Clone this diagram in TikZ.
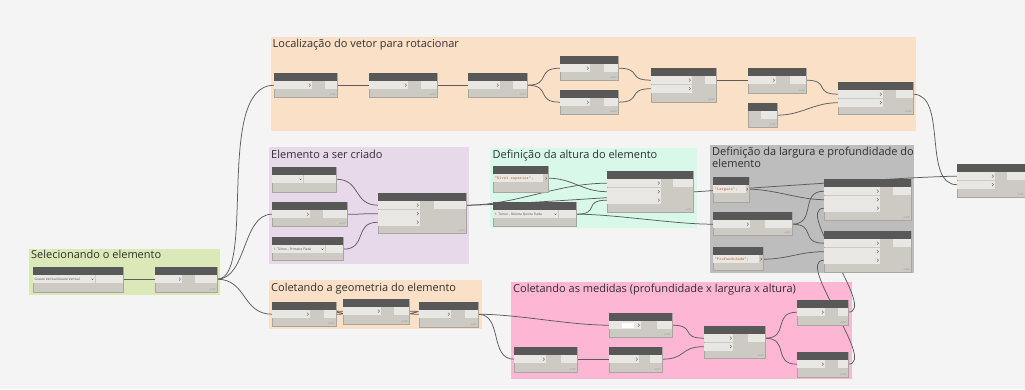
\documentclass[tikz,border=0pt]{standalone}
\usepackage{fontspec}
\setmainfont{Open Sans}
\usepackage{xcolor}
\definecolor{canvasbg}{HTML}{F4F4F4}
\definecolor{gpeach}{HTML}{FBE0C8}
\definecolor{glilac}{HTML}{E8D9EA}
\definecolor{gmint}{HTML}{D8F8EA}
\definecolor{ggrey}{HTML}{BDBDBD}
\definecolor{glime}{HTML}{DBE8B8}
\definecolor{gpink}{HTML}{FDB6D3}
\definecolor{dnodehead}{HTML}{585858}
\definecolor{dnodebody}{HTML}{CDCAC4}
\definecolor{dnoderow}{HTML}{E9E7E3}
\definecolor{dnodeline}{HTML}{A9A59F}
\definecolor{dwire}{HTML}{5C5C5C}
\definecolor{dtitle}{HTML}{303030}
\definecolor{codetext}{HTML}{B86A32}
\definecolor{droptext}{HTML}{505050}
\definecolor{dlacecol}{HTML}{8A8680}

\pgfdeclarelayer{groups}
\pgfdeclarelayer{wires}
\pgfsetlayers{groups,wires,main}

\tikzset{
  dbody/.style={draw=dnodeline, fill=dnodebody, line width=0.3pt, inner sep=0pt, outer sep=0pt, anchor=north west},
  dhead/.style={fill=dnodehead},
  drow/.style={fill=dnoderow},
  dport/.style={draw=droptext, line width=0.35pt},
  dlace/.style={font=\fontsize{2.2}{2.4}\selectfont, text=dlacecol, inner sep=0.3pt},
  droplabel/.style={font=\fontsize{3.2}{3.6}\selectfont, text=droptext, inner sep=0pt, anchor=west},
  codelabel/.style={font=\ttfamily\fontsize{4.3}{4.6}\selectfont, text=codetext, inner sep=0pt, anchor=west},
  wire/.style={draw=dwire, line width=0.75pt},
  grpbox/.style={inner sep=0pt, outer sep=0pt, anchor=north west},
  grptitle/.style={font=\fontsize{11}{12.5}\selectfont, text=dtitle, inner sep=0pt, anchor=base west},
}

% #1 name, #2 x, #3 y, #4 width, #5 height, #6 inputs, #7 input field, #8 output field
\newcommand{\dnode}[8]{%
  \node[dbody, minimum width=#4pt, minimum height=#5pt] (#1) at (#2,#3) {};
  \fill[dhead] (#2,#3) rectangle ++(#4,8);
  \fill[drow] ({#2+#4-#8},{#3+8.4}) rectangle ++({#8-0.4},7.6);
  \ifnum#6>0
  \foreach \i in {1,...,#6}{
    \fill[drow] ({#2+0.3},{#3+8.4+(\i-1)*8.5}) rectangle ++(#7,7.6);
    \draw[dport] ({#2+#7-3},{#3+10.7+(\i-1)*8.5}) -- ++(1.5,1.5) -- ++(-1.5,1.5);
    \coordinate (#1-in\i) at (#2,{#3+12.2+(\i-1)*8.5});
  }
  \fi
  \coordinate (#1-out) at ({#2+#4},{#3+12.2});
  \node[dlace, anchor=south east] (#1-lace) at ({#2+#4-1},{#3+#5-0.5}) {AUTO};
}

% dropdown: #6 field, #7 output field, #8 text
\newcommand{\ddrop}[8]{%
  \node[dbody, minimum width=#4pt, minimum height=#5pt] (#1) at (#2,#3) {};
  \fill[dhead] (#2,#3) rectangle ++(#4,8);
  \fill[drow] ({#2+0.3},{#3+8.4}) rectangle ++(#6,7.6);
  \fill[drow] ({#2+#4-#7},{#3+8.4}) rectangle ++({#7-0.4},7.6);
  \node[droplabel] (#1-text) at ({#2+1.5},{#3+12.2}) {#8};
  \draw[dport] ({#2+#6-3.5},{#3+11.7}) -- ++(1,1) -- ++(1,-1);
  \coordinate (#1-out) at ({#2+#4},{#3+12.2});
}

% code block: #6 field, #7 text
\newcommand{\dcode}[7]{%
  \node[dbody, minimum width=#4pt, minimum height=#5pt] (#1) at (#2,#3) {};
  \fill[dhead] (#2,#3) rectangle ++(#4,8);
  \fill[drow] ({#2+0.3},{#3+8.4}) rectangle ++(#6,7.6);
  \node[codelabel] (#1-text) at ({#2+1.5},{#3+12.2}) {#7};
  \draw[dport] ({#2+#4-2.5},{#3+11}) -- ++(1.2,1.2) -- ++(-1.2,1.2);
  \coordinate (#1-out) at ({#2+#4},{#3+12.2});
}

\newcommand{\wire}[3][25]{\draw[wire] (#2) .. controls +(#1,0) and +(-#1,0) .. (#3);}

\begin{document}
\begin{tikzpicture}[x=1pt, y=-1pt]
\useasboundingbox (0,0) rectangle (1025,389);

\begin{pgfonlayer}{groups}
  \fill[canvasbg] (0,0) rectangle (1025,389);
  \node[grpbox, fill=gpeach, minimum width=645pt, minimum height=94pt] (gvetor) at (271,37) {};
  \node[grptitle] (gvetor-title) at (272.5,47.5) {Localização do vetor para rotacionar};
  \node[grpbox, fill=glilac, minimum width=200pt, minimum height=117pt] (gcriado) at (269,147) {};
  \node[grptitle] (gcriado-title) at (271,158.5) {Elemento a ser criado};
  \node[grpbox, fill=gmint, minimum width=207pt, minimum height=80pt] (galtura) at (490,148) {};
  \node[grptitle] (galtura-title) at (492.5,158.5) {Definição da altura do elemento};
  \node[grpbox, fill=ggrey, minimum width=204pt, minimum height=128pt] (glargura) at (710,145) {};
  \node[grptitle, anchor=north west, align=left] (glargura-title) at (712,146.6) {Definição da largura e profundidade do\\elemento};
  \node[grpbox, fill=glime, minimum width=191pt, minimum height=46pt] (gselecao) at (29,249) {};
  \node[grptitle] (gselecao-title) at (31,258.5) {Selecionando o elemento};
  \node[grpbox, fill=gpeach, minimum width=213pt, minimum height=49pt] (ggeometria) at (269,280) {};
  \node[grptitle] (ggeometria-title) at (271,291) {Coletando a geometria do elemento};
  \node[grpbox, fill=gpink, minimum width=341pt, minimum height=97pt] (gmedidas) at (511,282) {};
  \node[grptitle] (gmedidas-title) at (513,292.5) {Coletando as medidas (profundidade x largura x altura)};
\end{pgfonlayer}

% selecionando
\ddrop{S1}{33}{267}{90}{25}{62}{27}{Graute Vertical:Graute Vertical}
\dnode{S2}{155}{267}{62}{25}{1}{27}{22}

% vetor
\dnode{N1}{274}{73}{63}{24}{1}{38}{12}
\dnode{N2}{369}{73}{68}{24}{1}{39}{16}
\dnode{N3}{468}{73}{59}{24}{1}{32}{14}
\dnode{N4}{560}{56}{58}{24}{1}{30}{14}
\dnode{N5}{560}{90}{58}{24}{1}{30}{14}
\dnode{N6}{651}{68}{65}{34}{2}{41}{11}
\dnode{N7}{748}{68}{58}{25}{1}{28}{16}
\dnode{N8}{748}{103}{29}{24}{0}{0}{16}
\dnode{N9}{838}{82}{75}{32}{2}{45}{17}
\dnode{F}{957}{164}{68}{33}{2}{38}{18}

% elemento
\ddrop{E1}{272}{167}{64}{25}{31}{32}{}
\dnode{E2}{272}{202}{75}{24}{1}{38}{24}
\ddrop{E3}{272}{237}{71}{23}{53}{17}{1. Térreo - Primeira Fiada}
\dnode{E4}{378}{193}{88}{40}{3}{42}{32}

% altura
\dcode{H1}{493}{166}{55}{26}{50}{"Nível superior";}
\ddrop{H2}{493}{202}{83}{24}{65}{17}{1. Térreo - Décima Quinta Fiada}
\dnode{H3}{607}{171}{86}{41}{3}{54}{20}

% largura e profundidade
\dcode{L1}{713}{177}{36}{25}{33}{"Largura";}
\dnode{L2}{713}{212}{79}{23}{1}{37}{27}
\dcode{L3}{713}{247}{50}{23}{46}{"Profundidade";}
\dnode{L4}{824}{179}{87}{41}{3}{56}{18}
\dnode{L5}{824}{231}{87}{41}{3}{56}{18}

% geometria
\dnode{G1}{272}{302}{64}{24}{1}{38}{12}
\dnode{G2}{343}{299}{66}{25}{1}{38}{15}
\dnode{G3}{419}{302}{59}{25}{1}{32}{13}

% medidas
\dnode{M1}{609}{313}{63}{24}{1}{32}{15}
\fill[white] (622,322.6) rectangle (634,328.2);
\dnode{M2}{514}{347}{63}{25}{1}{32}{16}
\dnode{M3}{609}{347}{53}{25}{1}{30}{12}
\dnode{M4}{704}{326}{61}{32}{2}{29}{17}
\dnode{M5}{797}{300}{51}{25}{1}{28}{10}
\dnode{M6}{797}{352}{51}{25}{1}{28}{10}

\begin{pgfonlayer}{wires}
  \wire{S1-out}{S2-in1}
  \draw[wire] (S2-out) .. controls +(40,0) and +(-60,0) .. (N1-in1);
  \wire[30]{S2-out}{E2-in1}
  \wire[30]{S2-out}{G1-in1}
  \wire{N1-out}{N2-in1}
  \wire{N2-out}{N3-in1}
  \wire{N3-out}{N4-in1}
  \wire{N3-out}{N5-in1}
  \wire{N4-out}{N6-in1}
  \wire{N5-out}{N6-in2}
  \wire{N6-out}{N7-in1}
  \wire{N7-out}{N9-in1}
  \wire{N8-out}{N9-in2}
  \wire[35]{N9-out}{F-in2}
  \wire{E1-out}{E4-in1}
  \wire{E2-out}{E4-in2}
  \wire{E3-out}{E4-in3}
  \wire[50]{E4-out}{H3-in1}
  \wire[60]{E4-out}{F-in1}
  \wire{H1-out}{H3-in2}
  \wire{H2-out}{H3-in3}
  \wire[40]{H2-out}{L2-in1}
  \wire{L1-out}{L4-in2}
  \wire{L2-out}{L4-in1}
  \wire{L2-out}{L5-in1}
  \wire{L3-out}{L5-in2}
  \wire[30]{M5-out}{L4-in3}
  \wire[30]{M6-out}{L5-in3}
  \wire{G1-out}{G2-in1}
  \wire{G2-out}{G3-in1}
  \wire[40]{G3-out}{M1-in1}
  \wire{G3-out}{M2-in1}
  \wire{M2-out}{M3-in1}
  \wire{M1-out}{M4-in1}
  \wire{M3-out}{M4-in2}
  \wire{M4-out}{M5-in1}
  \wire{M4-out}{M6-in1}
\end{pgfonlayer}
\end{tikzpicture}
\end{document}
